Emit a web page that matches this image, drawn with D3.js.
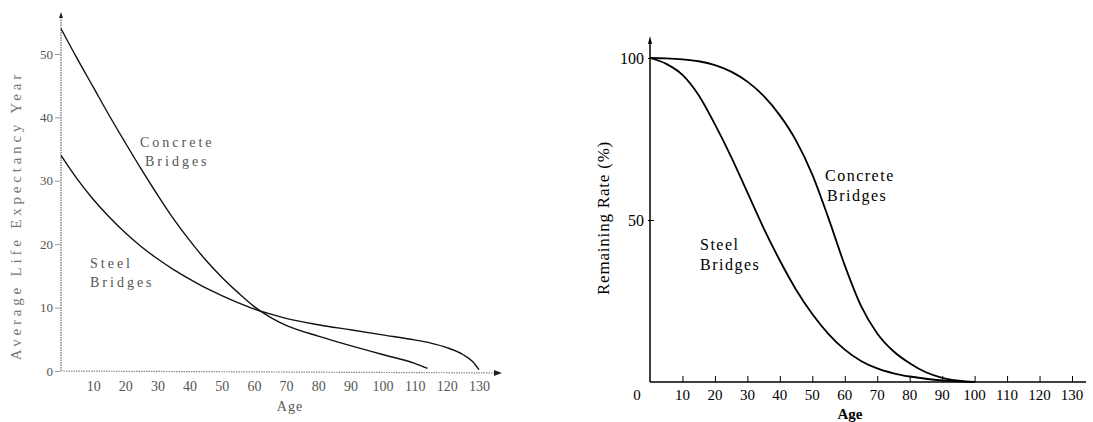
<!DOCTYPE html>
<html>
<head>
<meta charset="utf-8">
<script src="https://cdn.jsdelivr.net/npm/d3@7"></script>
<style>
  body { margin: 0; background: #fff; }
  svg { display: block; font-family: "Liberation Serif", "DejaVu Serif", serif; }
</style>
</head>
<body>
<div id="chart"></div>
<script>
// left panel: average life expectancy (years) by age
const lifeAges      = [0, 5, 10, 15, 20, 25, 30, 35, 40, 45, 50, 55, 60, 65, 70, 80, 90, 100, 110, 114];
const lifeConcrete  = [54, 49.3, 44.8, 40.3, 36, 31.8, 27.8, 24, 20.6, 17.5, 14.8, 12.4, 10.2, 8.5, 7.2, 5.5, 4.0, 2.6, 1.2, 0.4];
const steelAges     = [0, 5, 10, 15, 20, 25, 30, 35, 40, 45, 50, 55, 60, 65, 70, 80, 90, 100, 110, 115, 120, 125, 128, 130];
const lifeSteel     = [34, 30.3, 27.1, 24.3, 21.8, 19.6, 17.7, 16.0, 14.5, 13.1, 11.9, 10.8, 9.8, 9.0, 8.3, 7.3, 6.5, 5.7, 4.9, 4.4, 3.7, 2.6, 1.5, 0.2];
const lifeYTicks    = [0, 10, 20, 30, 40, 50];

// right panel: remaining rate (%) by age
const rateAges      = [0, 5, 10, 15, 20, 25, 30, 35, 40, 45, 50, 55, 60, 65, 70, 75, 80, 85, 90, 95, 100];
const rateConcrete  = [100, 99.9, 99.6, 99, 97.8, 95.8, 92.7, 88.3, 82.3, 74.5, 64, 50.5, 36, 23.5, 15, 9.5, 5.8, 3, 1.3, 0.4, 0];
const rateSteel     = [100, 98.2, 94.8, 88.5, 79.5, 69.5, 58.5, 47.5, 37.5, 28.5, 21, 14.8, 10, 6.5, 4.2, 2.7, 1.7, 1.0, 0.5, 0.2, 0];
const rateYTicks    = [0, 50, 100];

const ageTicks = [10, 20, 30, 40, 50, 60, 70, 80, 90, 100, 110, 120, 130];

const width = 1093, height = 422;
const svg = d3.select("#chart").append("svg")
  .attr("width", width)
  .attr("height", height);

const line = (x, y) => d3.line()
  .x(d => x(d[0]))
  .y(d => y(d[1]))
  .curve(d3.curveMonotoneX);

// ---------- left panel ----------
const xL = d3.scaleLinear().domain([0, 130]).range([61, 479]);
const yL = d3.scaleLinear().domain([0, 50]).range([371, 54]);
const gL = svg.append("g");
const greyText = "#555";

// axes (dotted, like the scan)
gL.append("line")
  .attr("x1", xL(0)).attr("x2", xL(0))
  .attr("y1", yL(0)).attr("y2", 16)
  .attr("stroke", "#666").attr("stroke-width", 1.2)
  .attr("stroke-dasharray", "1.5,1");
gL.append("line")
  .attr("x1", xL(0)).attr("x2", 496)
  .attr("y1", yL(0)).attr("y2", yL(0) + 2)
  .attr("stroke", "#888").attr("stroke-width", 1.2)
  .attr("stroke-dasharray", "1.5,1");
gL.append("path").attr("d", `M${xL(0) - 2},18 L${xL(0)},12 L${xL(0) + 2},18 Z`).attr("fill", "#222");
gL.append("path").attr("d", `M494,${yL(0) - 1} L502,${yL(0) + 2} L494,${yL(0) + 5} Z`).attr("fill", "#222");

const yAxisL = d3.axisLeft(yL).tickValues(lifeYTicks).tickSize(-5).tickPadding(8);
gL.append("g")
  .attr("transform", `translate(${xL(0)},0)`)
  .call(yAxisL)
  .call(g => g.select(".domain").remove())
  .call(g => g.selectAll("line").attr("stroke", "#999").attr("transform", "translate(-6,0)"))
  .call(g => g.selectAll("text").attr("fill", greyText).attr("font-size", 13).attr("font-family", "Liberation Serif"));

const xAxisL = d3.axisBottom(xL).tickValues(ageTicks).tickSize(0).tickPadding(8);
gL.append("g")
  .attr("transform", `translate(0,${yL(0) + 2})`)
  .call(xAxisL)
  .call(g => g.select(".domain").remove())
  .call(g => g.selectAll("text").attr("fill", greyText).attr("font-size", 14).attr("font-family", "Liberation Serif"));

gL.append("path")
  .datum(d3.zip(lifeAges, lifeConcrete))
  .attr("fill", "none").attr("stroke", "#111").attr("stroke-width", 1.4)
  .attr("d", line(xL, yL));
gL.append("path")
  .datum(d3.zip(steelAges, lifeSteel))
  .attr("fill", "none").attr("stroke", "#111").attr("stroke-width", 1.4)
  .attr("d", line(xL, yL));

gL.append("text")
  .attr("transform", `translate(21,${yL(24.5)}) rotate(-90)`)
  .attr("text-anchor", "middle")
  .attr("font-size", 15).attr("fill", "#777")
  .attr("letter-spacing", 3.8)
  .text("Average Life Expectancy Year");

gL.append("text").attr("x", 290).attr("y", 411)
  .attr("text-anchor", "middle").attr("font-size", 14).attr("fill", greyText)
  .attr("letter-spacing", 1)
  .text("Age");

const labL = [["Concrete", 140, 147], ["Bridges", 145, 166], ["Steel", 90, 268], ["Bridges", 90, 287]];
gL.selectAll("text.lab").data(labL).enter().append("text")
  .attr("class", "lab")
  .attr("x", d => d[1]).attr("y", d => d[2])
  .attr("font-size", 14).attr("fill", greyText).attr("letter-spacing", 3)
  .text(d => d[0]);

// ---------- right panel ----------
const xR = d3.scaleLinear().domain([0, 130]).range([650, 1072]);
const yR = d3.scaleLinear().domain([0, 100]).range([382, 58]);
const gR = svg.append("g");

gR.append("line")
  .attr("x1", xR(0)).attr("x2", xR(0))
  .attr("y1", yR(0)).attr("y2", 40)
  .attr("stroke", "#000").attr("stroke-width", 1.5);
gR.append("path").attr("d", `M${xR(0) - 2},44 L${xR(0)},36 L${xR(0) + 2},44 Z`).attr("fill", "#000");
gR.append("line")
  .attr("x1", xR(0)).attr("x2", 1086)
  .attr("y1", yR(0)).attr("y2", yR(0))
  .attr("stroke", "#000").attr("stroke-width", 1.5);

const yAxisR = d3.axisLeft(yR).tickValues(rateYTicks.slice(1)).tickSize(6).tickPadding(4);
gR.append("g")
  .attr("transform", `translate(${xR(0) + 4},0)`)
  .call(yAxisR)
  .call(g => g.select(".domain").remove())
  .call(g => g.selectAll("line").attr("stroke", "#000"))
  .call(g => g.selectAll("text").attr("fill", "#000").attr("font-size", 16).attr("font-family", "Liberation Serif"));

const xAxisR = d3.axisTop(xR).tickValues(ageTicks).tickSize(6).tickFormat("");
gR.append("g")
  .attr("transform", `translate(0,${yR(0)})`)
  .call(xAxisR)
  .call(g => g.select(".domain").remove())
  .call(g => g.selectAll("line").attr("stroke", "#000").attr("stroke-width", 1));

gR.append("g")
  .selectAll("text")
  .data([0].concat(ageTicks))
  .enter().append("text")
  .attr("x", d => d === 0 ? xR(0) - 13 : xR(d))
  .attr("y", 400)
  .attr("text-anchor", "middle")
  .attr("font-size", 15).attr("fill", "#000")
  .text(d => d);

gR.append("path")
  .datum(d3.zip(rateAges, rateConcrete))
  .attr("fill", "none").attr("stroke", "#000").attr("stroke-width", 1.8)
  .attr("d", line(xR, yR));
gR.append("path")
  .datum(d3.zip(rateAges, rateSteel))
  .attr("fill", "none").attr("stroke", "#000").attr("stroke-width", 1.8)
  .attr("d", line(xR, yR));

gR.append("text")
  .attr("transform", `translate(609,${yR(50) - 2}) rotate(-90)`)
  .attr("text-anchor", "middle")
  .attr("font-size", 17).attr("fill", "#000")
  .attr("letter-spacing", 0.8)
  .text("Remaining Rate (%)");

gR.append("text").attr("x", 850).attr("y", 419)
  .attr("text-anchor", "middle").attr("font-size", 15).attr("font-weight", "bold").attr("fill", "#000")
  .text("Age");

const labR = [["Concrete", 825, 181], ["Bridges", 827, 201], ["Steel", 700, 250], ["Bridges", 700, 270]];
gR.selectAll("text.lab").data(labR).enter().append("text")
  .attr("class", "lab")
  .attr("x", d => d[1]).attr("y", d => d[2])
  .attr("font-size", 16).attr("fill", "#000").attr("letter-spacing", 1.5)
  .text(d => d[0]);
</script>
</body>
</html>
